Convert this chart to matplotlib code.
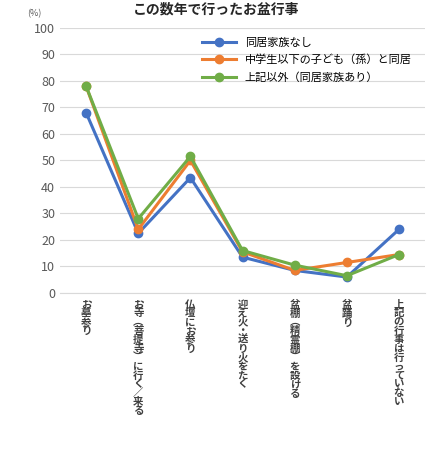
import matplotlib
matplotlib.use("Agg")
import matplotlib.pyplot as plt
import matplotlib.transforms as mtransforms

plt.rcParams['font.family'] = ['Noto Sans CJK JP', 'DejaVu Sans']

categories = ["お墓参り", "お寺（菩提寺）に行く／来る", "仏壇にお参り", "迎え火・送り火をたく",
              "盆棚（精霊棚）を設ける", "盆踊り", "上記の行事は行っていない"]
series_names = ["同居家族なし", "中学生以下の子ども（孫）と同居", "上記以外（同居家族あり）"]
blue = [68, 22.5, 43.5, 13.5, 8.5, 6, 24]
orange = [78, 24, 50, 15.5, 8.5, 11.5, 14.5]
green = [78, 28, 51.5, 16, 10.5, 6.5, 14.5]
colors = ["#4472C4", "#ED7D31", "#70AD47"]

fig = plt.figure(figsize=(4.32, 4.5), dpi=100)
ax = fig.add_axes([0.139, 0.349, 0.845, 0.589])
x = range(len(categories))
for vals, name, c in zip([blue, orange, green], series_names, colors):
    ax.plot(x, vals, color=c, lw=2.2, marker='o', ms=6, label=name)

ax.set_ylim(0, 100)
ax.set_xlim(-0.5, len(categories) - 0.5)
ax.set_yticks(range(0, 101, 10))
ax.tick_params(axis='y', length=0, labelsize=9, colors='#595959')
ax.set_xticks([])
ax.grid(axis='y', color='#D9D9D9', lw=0.8)
ax.set_axisbelow(True)
for s in ['top', 'right', 'left']:
    ax.spines[s].set_visible(False)
ax.spines['bottom'].set_color('#D9D9D9')

vert = {'（': '︵', '）': '︶'}
trans = mtransforms.blended_transform_factory(ax.transData, ax.transAxes)
for i, lab in enumerate(categories):
    txt = "\n".join(vert.get(ch, ch) for ch in lab)
    ax.text(i, -0.025, txt, transform=trans, ha='center', va='top',
            fontsize=7.5, fontweight='bold', color='#404040', linespacing=0.86)

ax.text(-0.09, 1.045, "(%)", transform=ax.transAxes, fontsize=6.5, color='#595959')
fig.suptitle("この数年で行ったお盆行事", y=0.995, fontsize=10, fontweight='bold', color='#262626')
ax.legend(loc='upper right', bbox_to_anchor=(0.99, 1.0), frameon=False, fontsize=8,
          handlelength=3, labelspacing=0.6)
fig.savefig("out.png", dpi=100)
